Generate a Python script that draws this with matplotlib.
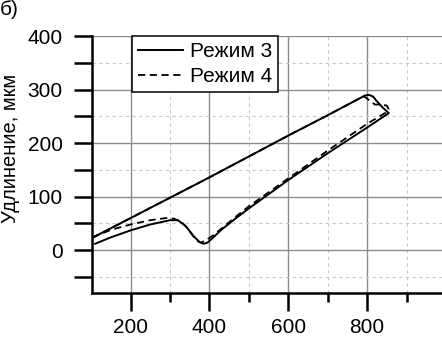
import matplotlib
matplotlib.use("Agg")
import matplotlib.pyplot as plt
from matplotlib.ticker import MultipleLocator

plt.rcParams['font.family'] = ['Liberation Sans', 'DejaVu Sans']

# Mode 3 (solid) hysteresis loop: lower branch -> right turn -> upper branch
x_mode3 = [110, 150, 200, 250, 300, 320, 340, 360, 375, 385, 395, 410, 430, 466, 500,
           600, 700, 800, 855, 840, 825, 815, 805, 795, 700, 600, 500, 400, 300, 200, 100]
y_mode3 = [12, 24, 37, 48, 56, 56, 45, 26, 15, 12, 14, 24, 38, 59, 78,
           131, 181, 229, 256, 266, 278, 287, 290, 289, 252, 214, 175, 136, 98, 60, 22]

# Mode 4 (dashed)
x_mode4 = [103, 150, 200, 250, 290, 310, 330, 345, 360, 370, 378, 390, 410, 430, 466, 500,
           600, 700, 800, 852, 855, 850, 835, 820, 808, 797, 790, 700, 600, 500, 400, 300, 200, 100]
y_mode4 = [24, 38, 48, 56, 60, 59, 52, 40, 25, 17, 14, 18, 28, 40, 62, 82,
           134, 186, 236, 259, 263, 270, 272, 272, 278, 285, 287, 252, 214, 175, 136, 98, 60, 22]

series_labels = ['Режим 3', 'Режим 4']
x_major_ticks = [200, 400, 600, 800]
y_major_ticks = [0, 100, 200, 300, 400]

W, H = 442, 338
fig = plt.figure(figsize=(W / 100, H / 100), dpi=100)
ax = fig.add_axes([92 / W, (H - 293) / H, (W - 92) / W, (293 - 36) / H])

ax.plot(x_mode3, y_mode3, color='black', lw=1.4, label=series_labels[0], zorder=3)
ax.plot(x_mode4, y_mode4, color='black', lw=1.3, ls=(0, (4, 2.5)), label=series_labels[1], zorder=3)

ax.set_xlim(102, 990)
ax.set_ylim(-80, 400)
ax.set_xticks(x_major_ticks)
ax.set_yticks(y_major_ticks)
ax.xaxis.set_minor_locator(MultipleLocator(100))
ax.yaxis.set_minor_locator(MultipleLocator(50))

ax.grid(which='major', color='#8c8c8c', lw=1.0, ls='-', zorder=0)
ax.grid(which='minor', color='#c8c8c8', lw=0.8, ls=(0, (3, 3)), zorder=0)
ax.set_axisbelow(True)

for s in ['top', 'right']:
    ax.spines[s].set_visible(False)
for s in ['left', 'bottom']:
    ax.spines[s].set_linewidth(1.8)
    ax.spines[s].set_color('black')

ax.tick_params(axis='both', which='major', direction='out', width=1.8, labelsize=15, colors='black')
ax.tick_params(axis='y', which='major', length=13, pad=8)
ax.tick_params(axis='y', which='minor', length=13, width=1.8)
ax.tick_params(axis='x', which='major', length=13, pad=5)
ax.tick_params(axis='x', which='minor', length=6.5, width=1.8)

ax.set_ylabel('Удлинение, мкм', fontsize=14.5)
ax.yaxis.set_label_coords(-0.206, 0.564)

leg = ax.legend(loc='upper left', bbox_to_anchor=(131.7 / W, 1 - 36 / H),
                bbox_transform=fig.transFigure, borderaxespad=0, fontsize=15,
                fancybox=False, framealpha=1, edgecolor='black',
                handlelength=2.2, handletextpad=0.3, borderpad=0.28, labelspacing=0.3)
leg.get_frame().set_linewidth(1.1)

fig.text(0.0, 1.0, 'б)', ha='left', va='top', fontsize=15)

fig.savefig('out.png', dpi=100)
